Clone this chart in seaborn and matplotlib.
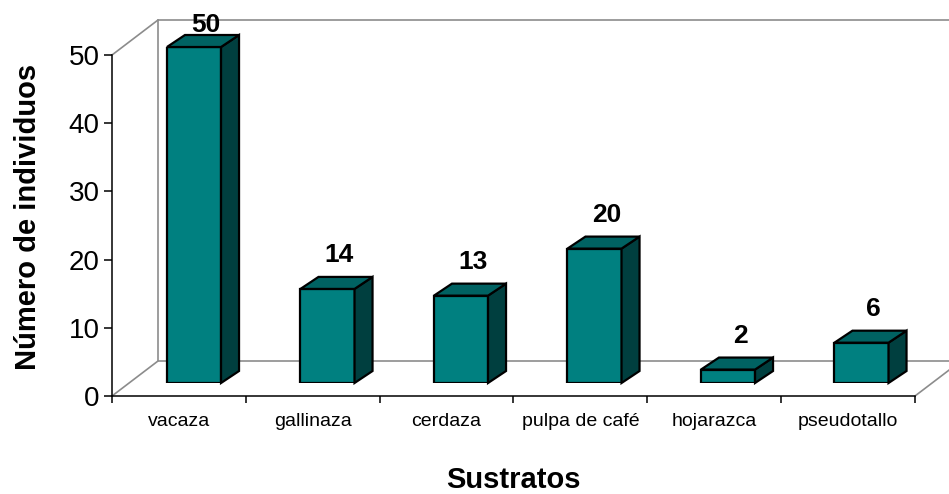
import matplotlib
matplotlib.use("Agg")
import matplotlib.pyplot as plt
from matplotlib.patches import Polygon
import seaborn as sns
import pandas as pd

# Data
sustratos = ["vacaza", "gallinaza", "cerdaza", "pulpa de café", "hojarazca", "pseudotallo"]
individuos = [50, 14, 13, 20, 2, 6]
y_ticks = [0, 10, 20, 30, 40, 50]

# Colours for the three visible faces of each block
FRONT = "#008080"
TOP = "#006262"
SIDE = "#003f3f"
WALL = "#8c8c8c"

sns.set_style("white")
plt.rcParams["font.family"] = ["Liberation Sans", "DejaVu Sans"]
plt.rcParams.update({
    "text.color": "black",
    "axes.labelcolor": "black",
    "xtick.color": "black",
    "ytick.color": "black",
    "xtick.labelcolor": "black",
    "ytick.labelcolor": "black",
})

W, H, DPI = 949, 494, 100
fig = plt.figure(figsize=(W / DPI, H / DPI), dpi=DPI)


def rect(left, top, right, bottom):
    """Axes rectangle from pixel edges (top-left origin)."""
    return [left / W, (H - bottom) / H, (right - left) / W, (bottom - top) / H]


# Front plane: value axis and category axis
ax = fig.add_axes(rect(112, 55, 915, 396))
ax.set_xlim(-0.5, len(sustratos) - 0.5)
ax.set_ylim(0, 50)
ax.patch.set_alpha(0)
for s in ("top", "right"):
    ax.spines[s].set_visible(False)
for s in ("left", "bottom"):
    ax.spines[s].set_color("black")
    ax.spines[s].set_linewidth(1.1)

ax.set_yticks(y_ticks)
ax.tick_params(axis="y", direction="out", length=6, width=1.1, color="black",
               pad=3, labelsize=20, left=True)
ax.set_xticks([i - 0.5 for i in range(len(sustratos) + 1)])
ax.set_xticklabels([])
ax.set_xticks(range(len(sustratos)), minor=True)
ax.set_xticklabels(sustratos, minor=True)
ax.tick_params(axis="x", which="major", direction="out", length=5, width=1.1,
               color="black", bottom=True)
ax.tick_params(axis="x", which="minor", length=0, pad=12, labelsize=14)

# Back walls: front rectangle pushed back in depth
depth_x = 46 / ax.bbox.width
depth_y = 35 / ax.bbox.height
wall_kw = dict(color=WALL, lw=1.2, transform=ax.transAxes, clip_on=False, zorder=0)
ax.plot([depth_x, depth_x, 1 + depth_x], [1 + depth_y, depth_y, depth_y], **wall_kw)
ax.plot([depth_x, 1 + depth_x], [1 + depth_y, 1 + depth_y], **wall_kw)
for fx, fy in [(0, 0), (0, 1), (1, 0)]:
    ax.plot([fx, fx + depth_x], [fy, fy + depth_y], **wall_kw)

# Titles
fig.text(28 / W, (H - 217) / H, "Número de individuos", rotation=90,
         ha="center", va="center", fontsize=21, fontweight="bold")
fig.text(513 / W, (H - 488) / H, "Sustratos", ha="center", va="baseline",
         fontsize=21, fontweight="bold")

# Bars sit on a plane set slightly back from the front axis
bx = fig.add_axes(rect(127.25, 47, 928.25, 383))
bx.set_axis_off()
bx.patch.set_alpha(0)
df = pd.DataFrame({"sustrato": sustratos, "individuos": individuos})
sns.barplot(data=df, x="sustrato", y="individuos", ax=bx, color=FRONT,
            saturation=1, width=0.405, edgecolor="black", linewidth=1.6,
            errorbar=None, zorder=3)
bx.set_xlim(-0.5, len(sustratos) - 0.5)
bx.set_ylim(0, 50)

# Block depth as a data-unit offset
px_x = bx.bbox.width / len(sustratos)
px_y = bx.bbox.height / 50
bdx = 18 / px_x
bdy = 12 / px_y

for patch, val in zip(bx.patches, individuos):
    x0 = patch.get_x()
    w = patch.get_width()
    h = patch.get_height()
    top = Polygon([(x0, h), (x0 + w, h), (x0 + w + bdx, h + bdy), (x0 + bdx, h + bdy)],
                  closed=True, facecolor=TOP, edgecolor="black", lw=1.6,
                  joinstyle="miter", clip_on=False, zorder=4)
    side = Polygon([(x0 + w, 0), (x0 + w + bdx, bdy), (x0 + w + bdx, h + bdy), (x0 + w, h)],
                   closed=True, facecolor=SIDE, edgecolor="black", lw=1.6,
                   joinstyle="miter", clip_on=False, zorder=4)
    bx.add_patch(side)
    bx.add_patch(top)

    # Value label above the block, kept inside the figure
    xc = x0 + w / 2
    _, ydisp = bx.transData.transform((xc, h))
    top_from_edge = H - ydisp
    rise = min(27, top_from_edge - 32)
    bx.annotate(str(val), xy=(xc, h), xytext=(12 * 0.72, rise * 0.72),
                textcoords="offset points", ha="center", va="baseline",
                fontsize=19, fontweight="bold", annotation_clip=False)

fig.savefig("out.png", dpi=DPI)
